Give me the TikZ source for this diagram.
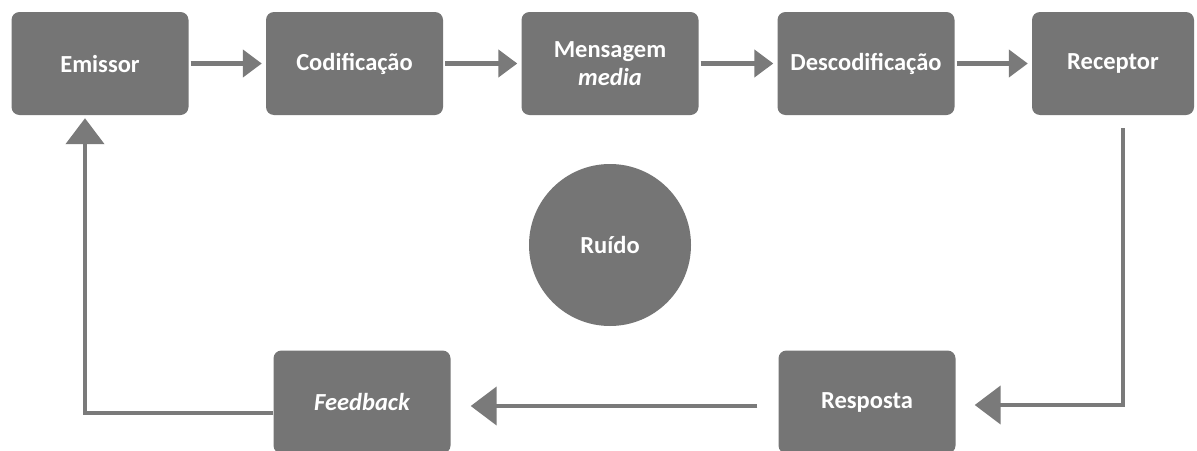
\documentclass[tikz,border=0pt]{standalone}
\usepackage{fontspec}
\setmainfont{Carlito}
\usetikzlibrary{arrows.meta}
\definecolor{boxgray}{HTML}{757575}
\definecolor{linegray}{HTML}{7A7A7A}
\begin{document}
\begin{tikzpicture}[x=1pt,y=-1pt,
  stepbox/.style={draw=none, fill=boxgray, rounded corners=8pt, minimum width=177pt, minimum height=103pt,
    inner sep=0pt, text=white, align=center, font=\fontsize{24.5}{28}\selectfont\bfseries},
  noise/.style={circle, fill=boxgray, minimum size=162pt, inner sep=0pt, text=white,
    font=\fontsize{24.5}{28}\selectfont\bfseries},
  conn/.style={draw=linegray, line width=4.5pt},
  toptip/.style={-{Triangle[length=19pt,width=27pt]}},
  bigtip/.style={-{Triangle[length=26pt,width=38pt]}}]
\useasboundingbox (0,0) rectangle (1197,450);
\clip (0,0) rectangle (1197,450);
\fill[white] (0,0) rectangle (1197,450);

\node[stepbox] (emissor) at (100,63.5) {Emissor};
\node[stepbox] (codif) at (354.5,63.5) {Codificação};
\node[stepbox] (mensagem) at (610,63.5) {Mensagem\\\itshape media};
\node[stepbox] (descodif) at (866,63.5) {Descodificação};
\node[stepbox, minimum width=162pt] (receptor) at (1113,63.5) {Receptor};
\node[noise] (ruido) at (610,245) {Ruído};
\node[stepbox] (feedback) at (362,402) {\itshape Feedback};
\node[stepbox] (resposta) at (867,402) {Resposta};

\coordinate (rtop) at (1123,115);
\coordinate (rturn) at (1123,405);
\coordinate (mid) at (610,406);
\coordinate (fb) at (85,413);

\draw[conn, toptip, shorten <=2pt, shorten >=4pt] (emissor.east) -- (codif.west);
\draw[conn, toptip, shorten <=2pt, shorten >=4pt] (codif.east) -- (mensagem.west);
\draw[conn, toptip, shorten <=2pt, shorten >=4pt] (mensagem.east) -- (descodif.west);
\draw[conn, toptip, shorten <=2pt, shorten >=4pt] (descodif.east) -- (receptor.west);

\draw[conn, bigtip, shorten <=13pt, shorten >=19pt] (rtop) -- (rturn) -- (resposta.east |- rturn);
\draw[conn, bigtip, shorten <=21pt, shorten >=20pt] (resposta.west |- mid) -- (feedback.east |- mid);
\draw[conn, bigtip, shorten >=3pt] (feedback.west |- fb) -- (fb) -- (fb |- emissor.south);
\end{tikzpicture}
\end{document}
